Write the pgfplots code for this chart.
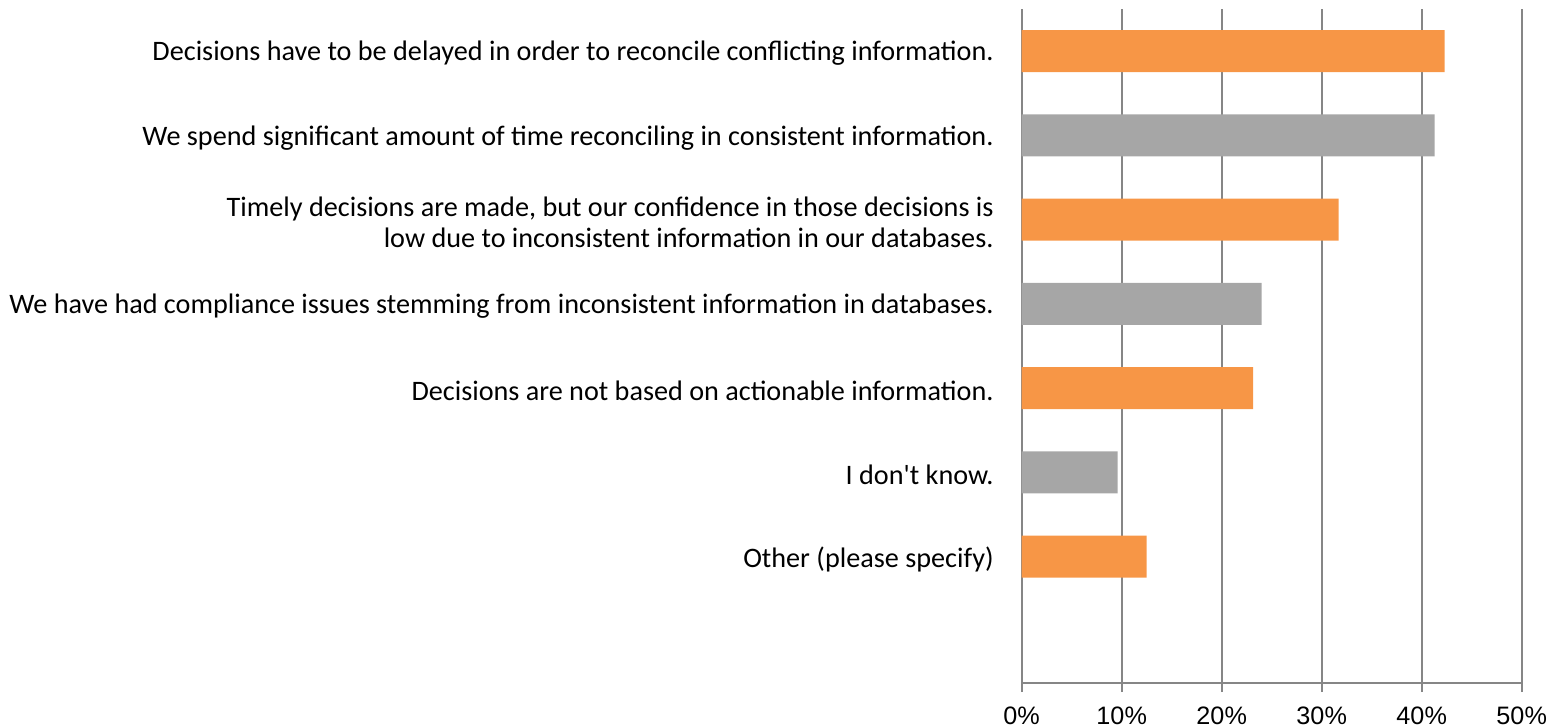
\documentclass[border=0pt]{standalone}
\usepackage{fontspec}
\setmainfont{Carlito}[Ligatures=TeXOff]
\newfontfamily\arialf{Liberation Sans}
\usepackage{pgfplots}
\pgfplotsset{compat=1.18}
\definecolor{barorange}{HTML}{F79646}
\definecolor{bargray}{HTML}{A6A6A6}
\definecolor{gridgray}{HTML}{868686}
\begin{document}
\begin{tikzpicture}
\path[use as bounding box] (0,0) rectangle (774.5pt,364pt);
\begin{axis}[
  at={(510.85pt,22.5pt)}, anchor=south west,
  scale only axis, width=250pt, height=337pt,
  xmin=0, xmax=50, ymin=-0.5, ymax=7.5, y dir=reverse,
  xbar, bar width=21pt,
  axis x line=bottom, axis y line=left,
  axis line style={gridgray, line width=1pt, -},
  xtick={0,10,20,30,40,50},
  xticklabels={0\%,10\%,20\%,30\%,40\%,50\%},
  xmajorgrids, major grid style={gridgray, line width=1pt},
  x tick style={gridgray, line width=1pt},
  tick align=outside, major tick length=4.5pt,
  ytick={0,1,2,3,4,5,6},
  yticklabels={
    {Decisions have to be delayed in order to reconcile conflicting information.},
    {We spend significant amount of time reconciling in consistent information.},
    {Timely decisions are made, but our confidence in those decisions is\\low due to inconsistent information in our databases.},
    {We have had compliance issues stemming from inconsistent information in databases.},
    {Decisions are not based on actionable information.},
    {I don't know.},
    {Other (please specify)}},
  y tick style={draw=none},
  xticklabel style={font=\arialf\fontsize{12.6}{14}\selectfont, anchor=base, yshift=-16pt},
  yticklabel style={font=\fontsize{14.1}{15.5}\selectfont, align=right, anchor=east, inner sep=0pt, xshift=-9.35pt, yshift=-1.2pt},
]
\addplot[fill=barorange, draw=none, bar shift=0pt] coordinates {(42.3,0) (31.7,2) (23.15,4) (12.5,6)};
\addplot[fill=bargray, draw=none, bar shift=0pt] coordinates {(41.3,1) (24.0,3) (9.6,5)};
\end{axis}
\end{tikzpicture}
\end{document}
